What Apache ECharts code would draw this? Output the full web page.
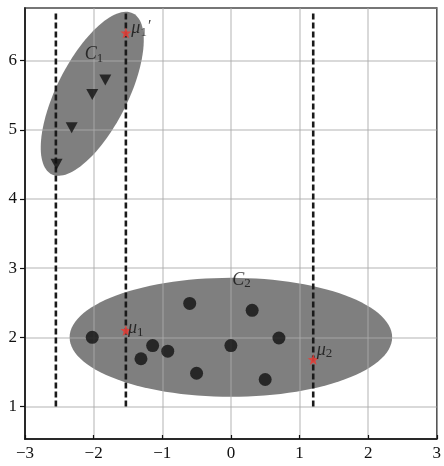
<!DOCTYPE html>
<html><head><meta charset="utf-8">
<script src="https://cdn.jsdelivr.net/npm/echarts@6/dist/echarts.min.js"></script>
<style>html,body{margin:0;padding:0;background:#fff}#c{width:444px;height:466px}</style>
</head><body><div id="c"></div>
<script>
// ---- data ----
const xTicks = [-3, -2, -1, 0, 1, 2, 3];
const yTicks = [1, 2, 3, 4, 5, 6];
const triangles = [[-2.54, 4.5], [-2.32, 5.03], [-2.02, 5.51], [-1.83, 5.72]];
const circles = [[-2.02, 2.0], [-1.31, 1.69], [-1.14, 1.88], [-0.92, 1.8], [-0.6, 2.49], [-0.5, 1.48], [0.0, 1.88], [0.31, 2.39], [0.7, 1.99], [0.5, 1.39]];
const centers = [[-1.53, 6.4], [-1.53, 2.1], [1.2, 1.68]];
// ellipses: [cx, cy, semiMajor, semiMinor, angleDeg]
const ellipses = [[-2.02, 5.52, 1.305, 0.515, 62.9], [0.0, 2.0, 2.35, 0.86, 0]];
const dashX = [-2.55, -1.53, 1.2];
const dashY = [1.0, 6.72];
const annoPos = [[-1.45, 6.41], [-2.13, 6.03], [0.02, 2.77], [-1.5, 2.07], [1.25, 1.76]];
const annoText = ['{m|μ}{s|1}{p|′}', '{c|C}{s|1}', '{c|C}{s|2}', '{m|μ}{s|1}', '{m|μ}{s|2}'];

const serif = '"Liberation Serif", "Times New Roman", serif';
const gridColor = 'rgba(170,170,170,0.45)';

const chart = echarts.init(document.getElementById('c'));
const ellipseSeries = {
  type: 'custom', z: 1, clip: false, silent: true,
  data: ellipses,
  renderItem: function (params, api) {
    const cx = api.value(0), cy = api.value(1), a = api.value(2), b = api.value(3), ang = api.value(4) * Math.PI / 180;
    const pts = [];
    for (let i = 0; i < 120; i++) {
      const t = i / 120 * Math.PI * 2;
      const x = cx + a * Math.cos(t) * Math.cos(ang) - b * Math.sin(t) * Math.sin(ang);
      const y = cy + a * Math.cos(t) * Math.sin(ang) + b * Math.sin(t) * Math.cos(ang);
      pts.push(api.coord([x, y]));
    }
    return { type: 'polygon', shape: { points: pts }, style: { fill: '#7f7f7f' } };
  }
};
const dashSeries = dashX.map(x => ({
  type: 'line', z: 3, symbol: 'none', silent: true,
  data: dashY.map(y => [x, y]),
  lineStyle: { color: '#1a1a1a', width: 2.6, type: [6, 3] }
}));
const rich = {
  m: { fontFamily: serif, fontStyle: 'italic', fontSize: 18, color: '#111', lineHeight: 14, verticalAlign: 'top' },
  c: { fontFamily: serif, fontStyle: 'italic', fontSize: 18, color: '#111', lineHeight: 14, verticalAlign: 'top' },
  s: { fontFamily: serif, fontSize: 13, color: '#111', lineHeight: 26, verticalAlign: 'middle' },
  p: { fontFamily: serif, fontSize: 16, color: '#111', lineHeight: 10, padding: [0, 0, 0, 1], verticalAlign: 'top' }
};
chart.setOption({
  animation: false,
  backgroundColor: '#fff',
  grid: { left: 25, right: 3, top: 8, bottom: 27, show: true, borderColor: '#111', borderWidth: 1.5, backgroundColor: '#fff' },
  xAxis: {
    type: 'value', min: xTicks[0], max: xTicks[xTicks.length - 1], interval: 1, z: 2,
    axisLine: { show: true, onZero: false, lineStyle: { color: '#111', width: 1.5 } },
    axisTick: { show: true, inside: true, length: 4, lineStyle: { color: '#111', width: 1.2 } },
    splitLine: { show: true, lineStyle: { color: gridColor, width: 2 } },
    axisLabel: { fontFamily: serif, fontSize: 17, color: '#111', margin: 6,
      formatter: v => xTicks.includes(v) ? (v < 0 ? '\u2212' + Math.abs(v) : String(v)) : '' }
  },
  yAxis: {
    type: 'value', min: 0.53, max: 6.76, z: 2,
    axisLine: { show: true, onZero: false, lineStyle: { color: '#111', width: 1.5 } },
    axisTick: { show: true, inside: false, length: 5, lineStyle: { color: '#111', width: 1.2 } },
    splitLine: { show: true, lineStyle: { color: gridColor, width: 2 } },
    axisLabel: { fontFamily: serif, fontSize: 17, color: '#111', margin: 8,
      showMinLabel: false, showMaxLabel: false,
      formatter: v => yTicks.includes(v) ? String(v) : '' }
  },
  series: [
    ellipseSeries,
    ...dashSeries,
    { type: 'scatter', z: 4, data: triangles, symbol: 'triangle', symbolRotate: 180, symbolSize: [12, 11], itemStyle: { color: '#111' } },
    { type: 'scatter', z: 4, data: circles, symbol: 'circle', symbolSize: 13, itemStyle: { color: '#111' } },
    { type: 'scatter', z: 5, data: centers, symbol: 'path://M0,-10 L2.35,-3.24 L9.51,-3.09 L3.8,1.24 L5.88,8.09 L0,4 L-5.88,8.09 L-3.8,1.24 L-9.51,-3.09 L-2.35,-3.24 Z', symbolSize: 11, itemStyle: { color: '#e2403a', opacity: 0.9 } },
    { type: 'scatter', z: 6, data: annoPos.map((p, i) => ({ value: p, name: annoText[i] })), symbolSize: 0, silent: true,
      label: { show: true, position: 'right', distance: 0, formatter: p => p.name, rich: rich } }
  ]
});
</script></body></html>
